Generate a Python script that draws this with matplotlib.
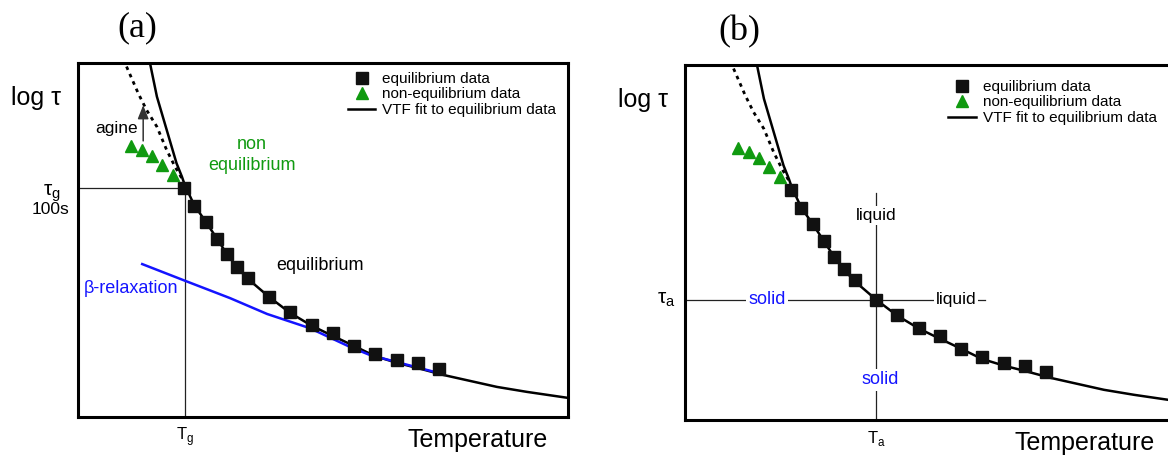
import matplotlib
matplotlib.use('Agg')
import matplotlib.pyplot as plt

plt.rcParams['font.family'] = ['Liberation Sans', 'DejaVu Sans']
plt.rcParams['mathtext.fontset'] = 'custom'
plt.rcParams['mathtext.rm'] = 'Liberation Sans'

# temperature / log tau in arbitrary units (0-100)
eq_T = [21.6, 23.7, 26.1, 28.4, 30.4, 32.4, 34.7, 39.0, 43.3, 47.8, 52.0, 56.3, 60.6, 65.1, 69.4, 73.7]
eq_logtau = [64.7, 59.6, 55.1, 50.3, 46.0, 42.4, 39.3, 33.9, 29.7, 26.0, 23.7, 20.1, 17.8, 16.1, 15.3, 13.6]

neq_T = [10.8, 13.1, 15.1, 17.1, 19.4]
neq_logtau = [76.6, 75.4, 73.7, 71.2, 68.4]

vtf_T = [14.7, 15.4, 16.1, 17.1, 18.1, 19.1, 20.1, 21.2, 21.8, 23.7, 26.1, 28.4, 30.4, 32.4,
         34.7, 39.0, 43.3, 47.8, 52.0, 56.3, 60.6, 65.1, 69.4, 74.5, 85.5, 91.6, 100.0]
vtf_logtau = [99.9, 95.2, 90.5, 85.8, 81.1, 76.4, 71.7, 67.9, 65.5, 59.9, 55.1, 50.3, 46.0, 42.4,
              39.0, 33.9, 29.4, 25.7, 22.9, 20.1, 17.2, 15.3, 13.8, 11.9, 8.5, 7.1, 5.4]

# dotted continuation (aged glass)
aged_T = [9.9, 12.3, 14.0, 16.1, 18.1, 19.8, 21.2]
aged_logtau = [99.0, 91.4, 86.7, 82.0, 75.4, 70.7, 67.4]

# beta relaxation branch
beta_T = [13.1, 22.0, 31.0, 38.6, 47.3, 55.5, 59.6, 74.5]
beta_logtau = [43.2, 38.4, 33.6, 29.1, 25.1, 19.8, 17.5, 12.1]

# ageing arrow
age_T = 13.3
age_from, age_to = 78.0, 88.1

# glass transition (a) and crossing point (b)
tg_T, tg_logtau = 21.8, 64.7
ta_T, ta_logtau = 39.0, 33.9
ta_hline_end = 61.2
ta_vline_top = 63.9

GREEN = '#109a10'
BLUE = '#1414ff'


def draw_common(ax, legend_anchor):
    ax.set_xlim(0, 100)
    ax.set_ylim(0, 100)
    ax.set_xticks([])
    ax.set_yticks([])
    for sp in ax.spines.values():
        sp.set_linewidth(2.2)

    ax.plot(vtf_T, vtf_logtau, color='black', lw=1.8, zorder=3,
            label='VTF fit to equilibrium data')
    ax.plot(aged_T, aged_logtau, color='black', lw=2, ls=(0, (1.3, 1.6)), zorder=3)
    ax.plot(eq_T, eq_logtau, 's', color='#111111', ms=8, ls='none', zorder=4,
            label='equilibrium data')
    ax.plot(neq_T, neq_logtau, '^', color=GREEN, ms=8.5, ls='none', zorder=4,
            label='non-equilibrium data')

    handles, labels = ax.get_legend_handles_labels()
    order = [1, 2, 0]
    ax.legend([handles[i] for i in order], [labels[i] for i in order],
              loc='upper left', bbox_to_anchor=legend_anchor, frameon=False,
              fontsize=11, handlelength=1.8, handletextpad=0.45,
              labelspacing=0.1, borderpad=0, borderaxespad=0)

    ax.text(-0.085, 0.90, 'log τ', transform=ax.transAxes, fontsize=18,
            ha='center', va='center')
    ax.text(0.815, -0.065, 'Temperature', transform=ax.transAxes, fontsize=18,
            ha='center', va='center')


fig = plt.figure(figsize=(11.68, 4.59), dpi=100)
ax1 = fig.add_axes([0.0668, 0.0915, 0.4195, 0.7712])
ax2 = fig.add_axes([0.5865, 0.085, 0.4195, 0.7734])

# ---- panel (a)
draw_common(ax1, (0.551, 0.975))
ax1.plot(beta_T, beta_logtau, color=BLUE, lw=1.8, zorder=3)
ax1.plot([0, tg_T], [tg_logtau, tg_logtau], color='#222222', lw=0.9, zorder=2)
ax1.plot([tg_T, tg_T], [0, tg_logtau], color='#222222', lw=0.9, zorder=2)
ax1.annotate('', xy=(age_T, age_to), xytext=(age_T, age_from),
             arrowprops=dict(arrowstyle='-|>,head_length=0.55,head_width=0.22',
                             color='#333333', lw=1.1, mutation_scale=15,
                             shrinkA=0, shrinkB=0))
ax1.text(7.8, 81.6, 'agine', fontsize=12.5, ha='center', va='center')
ax1.text(35.5, 74.1, 'non\nequilibrium', fontsize=13, color=GREEN,
         ha='center', va='center', linespacing=1.3)
ax1.text(49.4, 42.7, 'equilibrium', fontsize=13, ha='center', va='center')
ax1.text(10.9, 36.2, 'β-relaxation', fontsize=13, color=BLUE, ha='center', va='center')
ytr = ax1.get_yaxis_transform()
ax1.text(-0.053, 63.3, r'τ$_{\mathrm{g}}$', transform=ytr, fontsize=15,
         ha='center', va='center')
ax1.text(-0.056, 58.5, '100s', transform=ytr, fontsize=12.5, ha='center', va='center')
ax1.text(tg_T, -0.056, r'T$_{\mathrm{g}}$', transform=ax1.get_xaxis_transform(),
         fontsize=12, ha='center', va='center')
ax1.text(0.12, 1.10, '(a)', transform=ax1.transAxes, fontsize=26,
         family='Liberation Serif', ha='center', va='center')

# ---- panel (b)
draw_common(ax2, (0.537, 0.958))
ax2.plot([0, ta_hline_end], [ta_logtau, ta_logtau], color='#222222', lw=0.9, zorder=2)
ax2.plot([ta_T, ta_T], [0, ta_vline_top], color='#222222', lw=0.9, zorder=2)
box = dict(facecolor='white', edgecolor='none', pad=1.5)
ax2.text(16.7, ta_logtau, 'solid', fontsize=13, color=BLUE, ha='center',
         va='center', bbox=box, zorder=2.5)
ax2.text(55.3, ta_logtau, 'liquid', fontsize=12.5, ha='center', va='center',
         bbox=box, zorder=2.5)
ax2.text(ta_T, 57.7, 'liquid', fontsize=12.5, ha='center', va='center',
         bbox=box, zorder=2.5)
ax2.text(ta_T + 0.8, 11.3, 'solid', fontsize=13, color=BLUE, ha='center',
         va='center', bbox=box, zorder=2.5)
ax2.text(-0.039, ta_logtau, r'τ$_{\mathrm{a}}$', transform=ax2.get_yaxis_transform(),
         fontsize=15, ha='center', va='center')
ax2.text(ta_T, -0.052, r'T$_{\mathrm{a}}$', transform=ax2.get_xaxis_transform(),
         fontsize=12, ha='center', va='center')
ax2.text(0.11, 1.093, '(b)', transform=ax2.transAxes, fontsize=26,
         family='Liberation Serif', ha='center', va='center')

fig.savefig('out.png', dpi=100)
